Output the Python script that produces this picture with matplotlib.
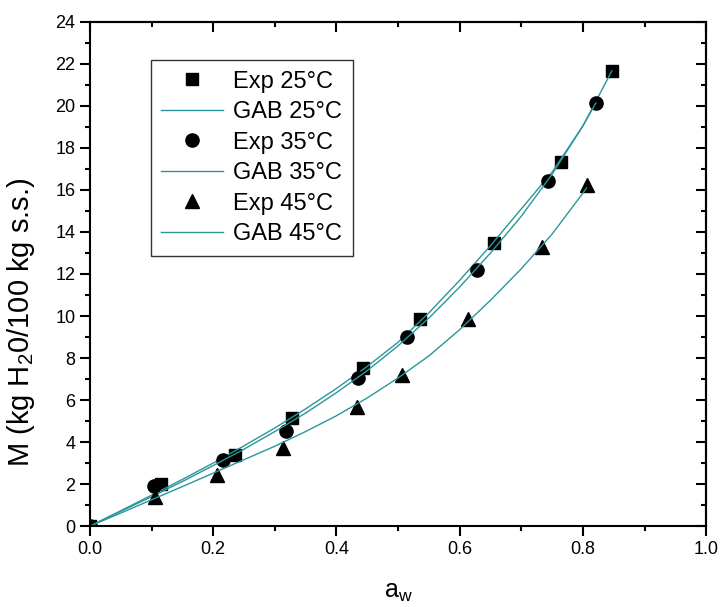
import matplotlib.pyplot as plt
from matplotlib.ticker import MultipleLocator

plt.rcParams['font.family'] = ['Liberation Sans', 'DejaVu Sans']
plt.rcParams['mathtext.fontset'] = 'custom'
plt.rcParams['mathtext.rm'] = 'Liberation Sans'
plt.rcParams['mathtext.it'] = 'Liberation Sans'

aw_25 = [0, 0.115, 0.236, 0.328, 0.443, 0.536, 0.655, 0.765, 0.847]
m_25 = [0, 2.02, 3.38, 5.12, 7.52, 9.86, 13.48, 17.33, 21.67]
aw_35 = [0, 0.104, 0.216, 0.318, 0.435, 0.515, 0.628, 0.743, 0.821]
m_35 = [0, 1.90, 3.12, 4.52, 7.05, 9.00, 12.19, 16.43, 20.14]
aw_45 = [0, 0.106, 0.206, 0.313, 0.433, 0.506, 0.614, 0.734, 0.806]
m_45 = [0, 1.38, 2.43, 3.71, 5.67, 7.19, 9.86, 13.29, 16.24]

# GAB fitted curves
gab_aw_25 = [0, 0.05, 0.1, 0.15, 0.2, 0.25, 0.3, 0.35, 0.4, 0.45, 0.5, 0.55, 0.6, 0.65, 0.7, 0.75, 0.8, 0.847]
gab_m_25 = [0, 0.73, 1.47, 2.22, 3.0, 3.82, 4.67, 5.58, 6.55, 7.6, 8.75, 10.15, 11.7, 13.35, 15.1, 16.85, 19.05, 21.67]
gab_aw_35 = [0, 0.05, 0.1, 0.15, 0.2, 0.25, 0.3, 0.35, 0.4, 0.45, 0.5, 0.55, 0.6, 0.65, 0.7, 0.75, 0.8, 0.821]
gab_m_35 = [0, 0.7, 1.4, 2.12, 2.88, 3.66, 4.5, 5.38, 6.35, 7.4, 8.58, 9.9, 11.38, 13.0, 14.75, 16.75, 19.05, 20.14]
gab_aw_45 = [0, 0.05, 0.1, 0.15, 0.2, 0.25, 0.3, 0.35, 0.4, 0.45, 0.5, 0.55, 0.6, 0.65, 0.7, 0.75, 0.8, 0.806]
gab_m_45 = [0, 0.62, 1.25, 1.88, 2.52, 3.16, 3.8, 4.5, 5.25, 6.1, 7.05, 8.1, 9.35, 10.75, 12.25, 13.9, 15.85, 16.1]

teal = '#2a9699'

fig = plt.figure(figsize=(7.22, 6.07), dpi=100)
ax = fig.add_axes([0.1247, 0.1334, 0.8533, 0.8304])

ax.plot(aw_25, m_25, 's', color='black', ms=8.5, label='Exp 25°C')
ax.plot(gab_aw_25, gab_m_25, '-', color=teal, lw=1, label='GAB 25°C')
ax.plot(aw_35, m_35, 'o', color='black', ms=9.5, label='Exp 35°C')
ax.plot(gab_aw_35, gab_m_35, '-', color=teal, lw=1, label='GAB 35°C')
ax.plot(aw_45, m_45, '^', color='black', ms=10, label='Exp 45°C')
ax.plot(gab_aw_45, gab_m_45, '-', color=teal, lw=1, label='GAB 45°C')

ax.set_xlim(0, 1.0)
ax.set_ylim(0, 24)
ax.xaxis.set_major_locator(MultipleLocator(0.2))
ax.xaxis.set_minor_locator(MultipleLocator(0.1))
ax.yaxis.set_major_locator(MultipleLocator(2))
ax.yaxis.set_minor_locator(MultipleLocator(1))
ax.xaxis.set_major_formatter(lambda v, p: f'{v:.1f}')

for s in ax.spines.values():
    s.set_linewidth(1.5)
ax.tick_params(which='major', direction='out', length=7, width=1.5, labelsize=13)
ax.tick_params(which='minor', direction='out', length=3.5, width=1.5)

# top and right ticks point inward
top = ax.secondary_xaxis('top')
top.xaxis.set_major_locator(MultipleLocator(0.2))
top.xaxis.set_minor_locator(MultipleLocator(0.1))
top.tick_params(which='major', direction='in', length=7, width=1.5, labeltop=False)
top.tick_params(which='minor', direction='in', length=3.5, width=1.5)
right = ax.secondary_yaxis('right')
right.yaxis.set_major_locator(MultipleLocator(2))
right.yaxis.set_minor_locator(MultipleLocator(1))
right.tick_params(which='major', direction='in', length=7, width=1.5, labelright=False)
right.tick_params(which='minor', direction='in', length=3.5, width=1.5)
for sa in (top, right):
    for s in sa.spines.values():
        s.set_linewidth(1.5)

ax.set_xlabel(r'a$_\mathregular{w}$', fontsize=18, labelpad=16)
ax.set_ylabel(r'M (kg H$_\mathregular{2}$0/100 kg s.s.)', fontsize=21)
ax.yaxis.set_label_coords(-0.086, 0.405)

leg = ax.legend(loc='upper left', bbox_to_anchor=(0.0985, 0.9246), borderaxespad=0,
                fontsize=17, frameon=True, fancybox=False, edgecolor='black',
                handlelength=2.6, handletextpad=0.45, borderpad=0.45, labelspacing=0.36)
leg.get_frame().set_linewidth(1.0)

fig.savefig('out.png', dpi=100)
